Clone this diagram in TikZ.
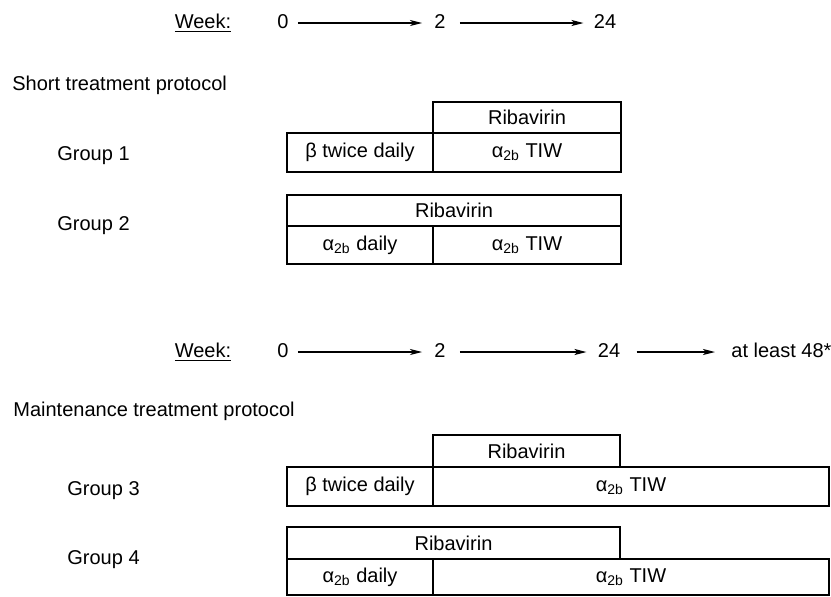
\documentclass[tikz,border=0pt]{standalone}
\usepackage{fontspec}
\setmainfont{Liberation Sans}
\usetikzlibrary{arrows.meta}

\tikzset{
  cell/.style={draw, rectangle, line width=0.7pt, inner sep=0pt, outer sep=0pt, anchor=north west},
  lbl/.style={anchor=west, inner sep=0pt},
  wk/.style={inner sep=0pt, anchor=base},
  timeline/.style={-{Stealth[length=6pt,width=3pt,inset=1.5pt]}, line width=0.6pt},
}
\newcommand{\atwob}{α\textsubscript{2b}}

\begin{document}
\begin{tikzpicture}[x=0.5pt, y=-0.5pt, every node/.style={font=\fontsize{10}{12}\selectfont}]
  \useasboundingbox (0,0) rectangle (831,596);

  % short protocol
  \node[wk] (weekA) at (203,28) {\underline{Week:}};
  \node[wk] (a0) at (283,28) {0};
  \node[wk] (a2) at (440,28) {2};
  \node[wk] (a24) at (605,28) {24};
  \draw[timeline] ([xshift=4.5pt,yshift=2.5pt]a0.base east) -- ([xshift=-6pt,yshift=2.5pt]a2.base west);
  \draw[timeline] ([xshift=7pt,yshift=2.5pt]a2.base east) -- ([xshift=-5pt,yshift=2.5pt]a24.base west);

  \node[lbl] (short) at (12,85) {Short treatment protocol};
  \node[lbl] (grp1) at (57,156) {Group 1};
  \node[lbl] (grp2) at (57,226) {Group 2};

  \node[cell, minimum width=94pt, minimum height=15.5pt] (ribA) at (433,102) {Ribavirin};
  \node[cell, minimum width=73pt, minimum height=19.5pt] (betaA) at (287,133) {β twice daily};
  \node[cell, minimum width=94pt, minimum height=19.5pt] (tiwA) at (433,133) {\atwob{} TIW};

  \node[cell, minimum width=167pt, minimum height=15.5pt] (ribB) at (287,195) {Ribavirin};
  \node[cell, minimum width=73pt, minimum height=19pt] (dailyB) at (287,226) {\atwob{} daily};
  \node[cell, minimum width=94pt, minimum height=19pt] (tiwB) at (433,226) {\atwob{} TIW};

  % maintenance protocol
  \node[wk] (weekB) at (203,357) {\underline{Week:}};
  \node[wk] (b0) at (283,357) {0};
  \node[wk] (b2) at (440,357) {2};
  \node[wk] (b24) at (609,357) {24};
  \node[wk, anchor=base west] (b48) at (731,357) {at least 48*};
  \draw[timeline] ([xshift=4.5pt,yshift=2.5pt]b0.base east) -- ([xshift=-6pt,yshift=2.5pt]b2.base west);
  \draw[timeline] ([xshift=7pt,yshift=2.5pt]b2.base east) -- ([xshift=-5.5pt,yshift=2.5pt]b24.base west);
  \draw[timeline] ([xshift=8pt,yshift=2.5pt]b24.base east) -- ([xshift=-8pt,yshift=2.5pt]b48.base west);

  \node[lbl] (maint) at (13,411) {Maintenance treatment protocol};
  \node[lbl] (grp3) at (67,491) {Group 3};
  \node[lbl] (grp4) at (67,560) {Group 4};

  \node[cell, minimum width=93.5pt, minimum height=16pt] (ribC) at (433,435) {Ribavirin};
  \node[cell, minimum width=73pt, minimum height=19.5pt] (betaC) at (287,467) {β twice daily};
  \node[cell, minimum width=198pt, minimum height=19.5pt] (tiwC) at (433,467) {\atwob{} TIW};

  \node[cell, minimum width=166.5pt, minimum height=16pt] (ribD) at (287,527) {Ribavirin};
  \node[cell, minimum width=73pt, minimum height=18pt] (dailyD) at (287,559) {\atwob{} daily};
  \node[cell, minimum width=198pt, minimum height=18pt] (tiwD) at (433,559) {\atwob{} TIW};
\end{tikzpicture}
\end{document}
